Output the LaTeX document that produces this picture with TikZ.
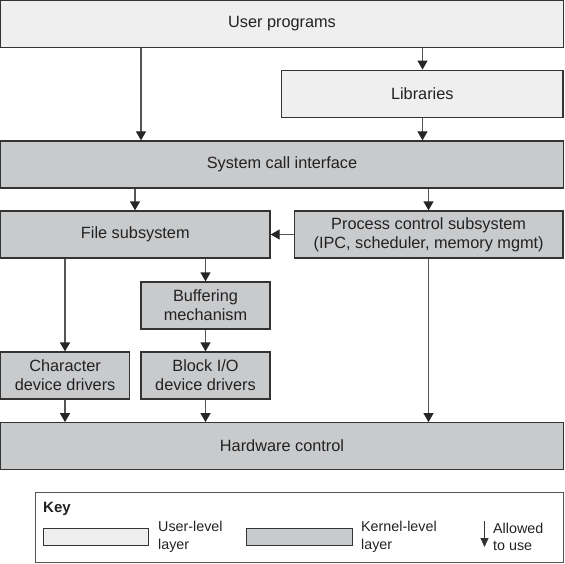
\documentclass[tikz,border=0pt]{standalone}
\usepackage{fontspec}
\setmainfont{Liberation Sans}
\usetikzlibrary{arrows.meta}
\definecolor{userfill}{HTML}{EFEFEF}
\definecolor{kernfill}{HTML}{C9CACC}
\definecolor{edge}{HTML}{333333}
\definecolor{arrline}{HTML}{555555}
\definecolor{txt}{HTML}{222222}
\begin{document}
\begin{tikzpicture}[x=1pt,y=1pt,
  box/.style={draw=edge,line width=1.3pt,inner sep=0pt,align=center,text=txt,font=\fontsize{16.3}{19}\selectfont},
  ubox/.style={box,fill=userfill},
  kbox/.style={box,fill=kernfill},
  arr/.style={draw=arrline,line width=1.3pt,-{Triangle[width=10pt,length=9pt,fill=black!85,color=black!85]}},
  keytxt/.style={anchor=west,align=left,inner sep=0pt,text=txt,font=\fontsize{14.3}{17.5}\selectfont}
]
\useasboundingbox (0,0) rectangle (564,-564);
% columns
\coordinate (c1) at (141,0);
\coordinate (c2) at (422.5,0);
\coordinate (c3) at (135,0);
\coordinate (c4) at (428.5,0);
\coordinate (c5) at (65,0);
\coordinate (c6) at (205.5,0);

\node[ubox,minimum width=562.4,minimum height=46.5] (user) at (282,-24) {User programs};
\node[ubox,minimum width=281.5,minimum height=47.5] (lib) at (422.3,-94) {Libraries};
\node[kbox,minimum width=562.4,minimum height=47] (sci) at (282,-164.5) {System call interface};
\node[kbox,minimum width=269.5,minimum height=47] (file) at (135.3,-234.5) {File subsystem};
\node[kbox,minimum width=268.5,minimum height=47] (proc) at (428.6,-234.5) {Process control subsystem\\(IPC, scheduler, memory mgmt)};
\node[kbox,minimum width=129,minimum height=47] (buf) at (205.5,-305.5) {Buffering\\mechanism};
\node[kbox,minimum width=129,minimum height=47] (char) at (65.1,-375.5) {Character\\device drivers};
\node[kbox,minimum width=129,minimum height=47] (blk) at (205.5,-375.5) {Block I/O\\device drivers};
\node[kbox,minimum width=562.4,minimum height=46.5] (hw) at (282,-446) {Hardware control};

\draw[arr] (user.south -| c1) -- (sci.north -| c1);
\draw[arr] (user.south -| c2) -- (lib.north -| c2);
\draw[arr] (lib.south -| c2) -- (sci.north -| c2);
\draw[arr] (sci.south -| c3) -- (file.north -| c3);
\draw[arr] (sci.south -| c4) -- (proc.north -| c4);
\draw[arr] (proc.west) -- (file.east);
\draw[arr] (file.south -| c5) -- (char.north -| c5);
\draw[arr] (file.south -| c6) -- (buf.north -| c6);
\draw[arr] (buf.south -| c6) -- (blk.north -| c6);
\draw[arr] (char.south -| c5) -- (hw.north -| c5);
\draw[arr] (blk.south -| c6) -- (hw.north -| c6);
\draw[arr] (proc.south -| c4) -- (hw.north -| c4);

% key
\node[draw=arrline,line width=1pt,minimum width=528,minimum height=70.5,inner sep=0pt] (key) at (299,-527.5) {};
\node[keytxt,font=\fontsize{15}{17}\selectfont\bfseries] (keyt) at (43,-509) {Key};
\node[draw=edge,line width=1pt,fill=userfill,minimum width=105,minimum height=17,inner sep=0pt] (ukey) at (95.5,-536.5) {};
\node[keytxt] (ukeyt) at (158,-537) {User-level\\layer};
\node[draw=edge,line width=1pt,fill=kernfill,minimum width=106,minimum height=17,inner sep=0pt] (kkey) at (299,-536.5) {};
\node[keytxt] (kkeyt) at (361,-537) {Kernel-level\\layer};
\coordinate (ka) at (484.5,-521);
\coordinate (kb) at (484.5,-547);
\draw[line width=1.2pt,draw=edge,-{Triangle[width=8pt,length=9pt]}] (ka) -- (kb);
\node[keytxt] (at) at (493,-537) {Allowed\\to use};
\end{tikzpicture}
\end{document}
